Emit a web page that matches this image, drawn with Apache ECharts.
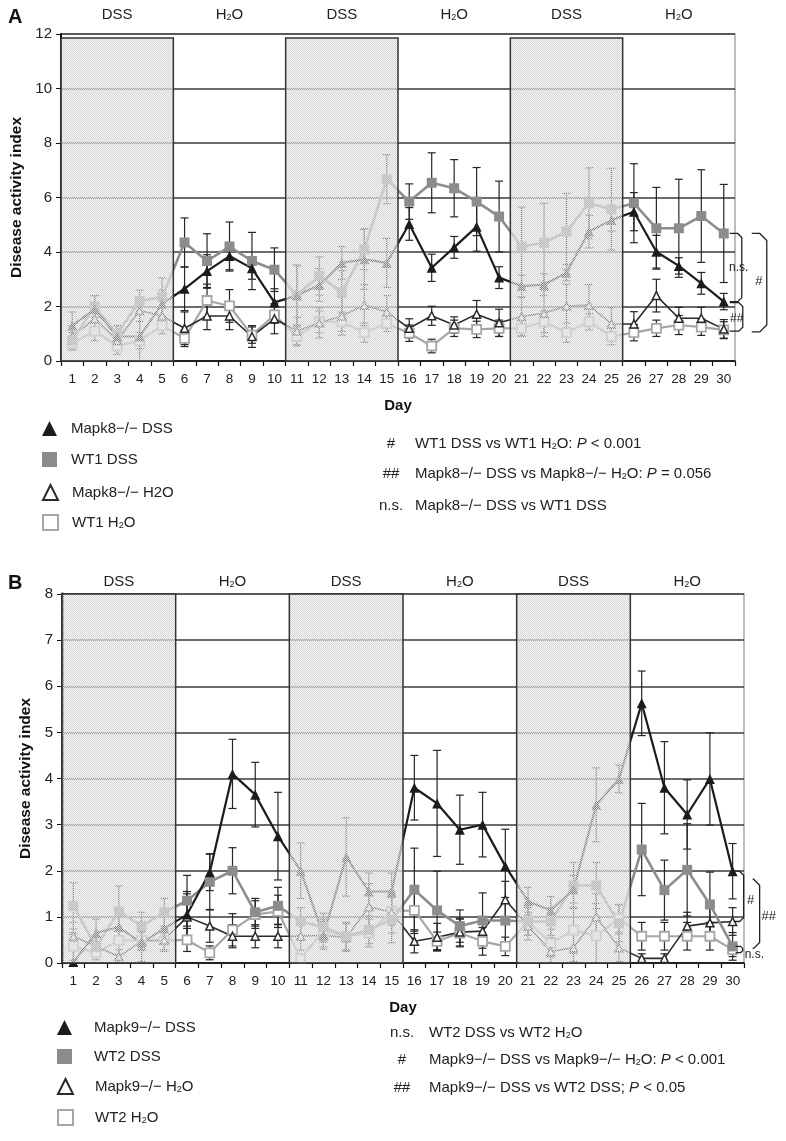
<!DOCTYPE html>
<html><head><meta charset="utf-8">
<script src="https://cdn.jsdelivr.net/npm/echarts@6/dist/echarts.min.js"></script>
<style>html,body{margin:0;padding:0;background:#fff}#c{width:786px;height:1141px}</style>
</head><body><div id="c"></div>
<script>
// ---------- data ----------
const days = ['1','2','3','4','5','6','7','8','9','10','11','12','13','14','15','16','17','18','19','20','21','22','23','24','25','26','27','28','29','30'];
const periods = ['DSS','H2O','DSS','H2O','DSS','H2O'];
const dssBlocks = [[1,5],[11,15],[21,25]];

// Panel A
const mapk8DSS = [1.3,1.9,0.9,0.9,2.1, 2.65,3.3,3.85,3.4,2.15, 2.4,2.79,3.6,3.73,3.6, 5.03,3.42,4.17,4.93,3.06, 2.75,2.8,3.24,4.75,5.17, 5.48,4.01,3.49,2.85,2.18];
const wt1DSS   = [0.75,2.0,1.0,2.2,2.35, 4.35,3.67,4.2,3.67,3.35, 2.42,3.12,2.52,4.1,6.67, 5.85,6.54,6.34,5.85,5.3, 4.2,4.34,4.75,5.79,5.57, 5.79,4.87,4.87,5.32,4.68];
const mapk8H2O = [0.9,1.55,0.75,1.85,1.65, 1.2,1.65,1.65,0.9,1.55, 1.1,1.4,1.65,2.05,1.8, 1.2,1.66,1.32,1.72,1.4, 1.63,1.75,2.02,2.05,1.36, 1.36,2.4,1.57,1.57,1.17];
const wt1H2O   = [0.65,1.1,0.55,0.75,1.3, 0.83,2.22,2.02,0.95,1.69, 0.9,1.44,1.44,1.04,1.38, 1.02,0.55,1.2,1.16,1.2, 1.2,1.44,1.04,1.44,0.9, 1.04,1.2,1.32,1.24,1.14];
const errMapk8DSS = [0.5,0.5,0.4,1.15,0.5, 0.8,0.6,0.5,0.4,0.5, 1.1,0.6,0.6,1.1,0.9, 0.6,0.5,0.4,0.9,0.4, 0.4,0.4,0.3,0.6,0.4, 0.7,0.6,0.3,0.4,0.3];
const errWT1DSS   = [0.3,0.4,0.3,0.4,0.7, 0.9,1.0,0.9,1.05,0.8, 1.1,0.7,0.8,0.75,0.9, 0.65,1.1,1.05,1.25,1.3, 1.45,1.45,1.4,1.3,1.5, 1.45,1.5,1.8,1.7,1.8];
const errMapk8H2O = [0.4,0.35,0.3,0.4,0.35, 0.6,0.5,0.5,0.4,0.55, 0.5,0.55,0.7,0.75,0.6, 0.35,0.35,0.3,0.5,0.5, 0.7,0.85,0.8,0.75,0.6, 0.45,0.6,0.4,0.4,0.35];
const errWT1H2O   = [0.25,0.35,0.3,0.3,0.3, 0.3,0.6,0.6,0.3,0.3, 0.35,0.4,0.35,0.35,0.3, 0.3,0.25,0.3,0.3,0.3, 0.3,0.4,0.35,0.3,0.3, 0.3,0.3,0.35,0.3,0.3];

// Panel B
const mapk9DSS = [0.02,0.65,0.78,0.43,0.75, 1.05,1.97,4.1,3.65,2.75, 2.0,0.6,2.3,1.55,1.55, 3.8,3.46,2.89,3.0,2.1, 1.34,1.14,1.6,3.43,3.99, 5.63,3.8,3.22,3.99,1.99];
const wt2DSS   = [1.24,0.35,1.12,0.8,1.1, 1.35,1.76,2.0,1.1,1.24, 0.9,0.78,0.58,0.72,0.94, 1.59,1.14,0.8,0.92,0.92, 0.9,0.9,1.68,1.68,0.86, 2.46,1.58,2.02,1.27,0.36];
const mapk9H2O = [0.58,0.36,0.14,0.47,0.5, 1.0,0.8,0.58,0.58,0.58, 0.58,0.6,0.55,1.22,1.1, 0.47,0.56,0.67,0.69,1.37, 0.8,0.25,0.33,1.0,0.33, 0.1,0.1,0.8,0.87,0.9];
const wt2H2O   = [0.36,0.22,0.49,0.49,0.49, 0.5,0.22,0.72,1.05,1.12, 0.1,0.7,0.58,0.65,1.12, 1.14,0.47,0.65,0.47,0.36, 0.9,0.43,0.71,0.59,0.97, 0.58,0.58,0.58,0.58,0.29];
const errMapk9DSS = [0.6,0.3,0.3,0.4,0.3, 0.5,0.4,0.75,0.7,0.95, 0.6,0.3,0.85,0.4,0.4, 0.7,1.15,0.75,0.7,0.8, 0.3,0.3,0.3,0.8,0.3, 0.7,1.0,0.75,1.0,0.6];
const errWT2DSS   = [0.5,0.2,0.55,0.3,0.3, 0.55,0.6,0.5,0.3,0.4, 0.3,0.3,0.3,0.3,0.5, 0.9,0.85,0.35,0.6,0.5, 0.3,0.3,0.5,0.5,0.4, 1.0,0.65,1.0,0.7,0.3];
const errMapk9H2O = [0.3,0.2,0.15,0.2,0.25, 0.5,0.35,0.25,0.25,0.25, 0.3,0.25,0.3,0.5,0.45, 0.25,0.3,0.3,0.3,0.4, 0.3,0.3,0.3,0.5,0.3, 0.1,0.1,0.3,0.35,0.3];
const errWT2H2O   = [0.3,0.15,0.3,0.2,0.2, 0.25,0.15,0.35,0.3,0.35, 0.1,0.25,0.3,0.3,0.3, 0.5,0.2,0.3,0.3,0.2, 0.3,0.3,0.5,0.7,0.3, 0.3,0.3,0.3,0.3,0.15];

// ---------- styling helpers ----------
const FONT = 'Liberation Sans, Arial, sans-serif';
const NARROW = 'Liberation Sans Narrow, Liberation Sans, Arial, sans-serif';
const BLACK = '#1c1c1c', GRAY = '#8c8c8c', LGRAY = '#a6a6a6';
const richSub = {
  sub: {fontSize: 9, fontFamily: NARROW, padding: [6, 0, 0, 0], color: '#222'},
  i: {fontStyle: 'italic', fontSize: 15, fontFamily: NARROW, color: '#222'}
};

// pattern for DSS shading
const pc = document.createElement('canvas'); pc.width = 4; pc.height = 4;
const pctx = pc.getContext('2d');
pctx.fillStyle = 'rgba(232,232,232,0.5)'; pctx.fillRect(0,0,4,4);
pctx.fillStyle = '#d8d8d8';
[[0,0],[2,0],[1,1],[3,1],[0,2],[2,2],[1,3],[3,3]].forEach(p => pctx.fillRect(p[0],p[1],1,1));
const pattern = {image: pc, repeat: 'repeat'};

function overlayRender(params, api) {
  const s = api.value(0) - 1, e = api.value(1) - 1, top = api.value(2);
  const p0 = api.coord([s, top]);
  const p1 = api.coord([e, 0]);
  const bw = api.size([1, 0])[0];
  const x0 = p0[0] - bw / 2, x1 = p1[0] + bw / 2;
  return {type: 'rect', shape: {x: x0, y: p0[1], width: x1 - x0, height: p1[1] - p0[1]},
    style: {fill: pattern, stroke: '#333', lineWidth: 1.5}};
}
function errRender(params, api) {
  const x = api.value(0), v = api.value(1), e = api.value(2);
  const hi = api.coord([x, v + e]), lo = api.coord([x, Math.max(0, v - e)]);
  const w = 4, st = {stroke: '#262626', lineWidth: 1.2};
  return {type: 'group', children: [
    {type: 'line', shape: {x1: hi[0], y1: hi[1], x2: lo[0], y2: lo[1]}, style: st},
    {type: 'line', shape: {x1: hi[0] - w, y1: hi[1], x2: hi[0] + w, y2: hi[1]}, style: st},
    {type: 'line', shape: {x1: lo[0] - w, y1: lo[1], x2: lo[0] + w, y2: lo[1]}, style: st}
  ]};
}

function lineSeries(name, data, gi, kind) {
  const base = {name, type: 'line', data, xAxisIndex: gi, yAxisIndex: gi, z: 3, animation: false};
  if (kind === 'kDSS') return Object.assign(base, {symbol: 'triangle', symbolSize: 10,
    lineStyle: {color: BLACK, width: 2.2}, itemStyle: {color: BLACK}});
  if (kind === 'wDSS') return Object.assign(base, {symbol: 'rect', symbolSize: 10,
    lineStyle: {color: GRAY, width: 2.6}, itemStyle: {color: GRAY}});
  if (kind === 'kH2O') return Object.assign(base, {symbol: 'triangle', symbolSize: 8,
    lineStyle: {color: '#2a2a2a', width: 1.6}, itemStyle: {color: '#fff', borderColor: '#2a2a2a', borderWidth: 1.5}});
  return Object.assign(base, {symbol: 'rect', symbolSize: 9,
    lineStyle: {color: LGRAY, width: 2.2}, itemStyle: {color: '#fff', borderColor: LGRAY, borderWidth: 1.8}});
}
function errSeries(vals, errs, gi) {
  return {type: 'custom', renderItem: errRender, xAxisIndex: gi, yAxisIndex: gi, z: 2, silent: true,
    animation: false, data: vals.map((v, i) => [i, v, errs[i]])};
}
function overlaySeries(gi, top) {
  return {type: 'custom', renderItem: overlayRender, xAxisIndex: gi, yAxisIndex: gi, z: 6, silent: true,
    animation: false, encode: {x: 0, y: 2}, data: dssBlocks.map(b => [b[0], b[1], top])};
}

const xAxisBase = (gi) => ({
  type: 'category', data: days, gridIndex: gi, boundaryGap: true,
  axisLine: {lineStyle: {color: '#111', width: 1.5}},
  axisTick: {show: true, interval: 0, length: 5, lineStyle: {color: '#111', width: 1.2}},
  axisLabel: {interval: 0, fontSize: 13.5, color: '#222', fontFamily: FONT, margin: 11},
  name: 'Day', nameLocation: 'middle', nameGap: 37,
  nameTextStyle: {fontSize: 15, fontWeight: 'bold', color: '#111', fontFamily: FONT},
  splitLine: {show: false}
});
const yAxisBase = (gi, max, interval, lw) => ({
  type: 'value', gridIndex: gi, min: 0, max, interval,
  axisLine: {show: true, lineStyle: {color: '#111', width: lw}},
  axisTick: {show: true, length: 5, lineStyle: {color: '#111'}},
  axisLabel: {fontSize: 15, color: '#222', fontFamily: FONT, margin: 9},
  splitLine: {show: true, lineStyle: {color: '#3a3a3a', width: 1.5}},
  name: 'Disease activity index', nameLocation: 'middle', nameGap: 26,
  nameTextStyle: {fontSize: 15.5, fontWeight: 'bold', color: '#111', fontFamily: FONT}
});

const legendFmt = {
  'Mapk8−/− DSS': 'Mapk8−/− DSS', 'WT1 DSS': 'WT1 DSS', 'Mapk8−/− H2O': 'Mapk8−/− H2O', 'WT1 H2O': 'WT1 H{sub|2}O',
  'Mapk9−/− DSS': 'Mapk9−/− DSS', 'WT2 DSS': 'WT2 DSS', 'Mapk9−/− H2O': 'Mapk9−/− H{sub|2}O', 'WT2 H2O': 'WT2 H{sub|2}O'
};
// one legend component per row so that every row sits at its own height
const legendRow = (name, left, y, gap) => {
  const hasSub = legendFmt[name].indexOf('{sub') >= 0;
  return {
    orient: 'horizontal', left, top: y - (hasSub ? 11 : 9), padding: 0, itemWidth: 15, itemHeight: 15,
    selectedMode: false, data: [{name, icon: name.indexOf('Mapk') === 0 ? 'triangle' : 'rect'}],
    formatter: n => legendFmt[n],
    textStyle: {fontSize: 15, fontFamily: NARROW, color: '#222', padding: [0, 0, 0, gap], rich: richSub}
  };
};
const legendsA = [['Mapk8−/− DSS', 430], ['WT1 DSS', 461], ['Mapk8−/− H2O', 493], ['WT1 H2O', 525]];
const legendsB = [['Mapk9−/− DSS', 1029], ['WT2 DSS', 1058], ['Mapk9−/− H2O', 1089], ['WT2 H2O', 1120]];

const option = {
  backgroundColor: '#fff',
  animation: false,
  grid: [
    {left: 61, top: 34, width: 674, height: 327, show: true, borderColor: '#a8a8a8', borderWidth: 1.5},
    {left: 62, top: 594, width: 682, height: 369, show: true, borderColor: '#a8a8a8', borderWidth: 1.5}
  ],
  xAxis: [xAxisBase(0), xAxisBase(1)],
  yAxis: [yAxisBase(0, 12, 2, 2), yAxisBase(1, 8, 1, 2.8)],
  legend: legendsA.map(r => legendRow(r[0], 42, r[1], 9)).concat(legendsB.map(r => legendRow(r[0], 57, r[1], 17))),
  series: [
    errSeries(wt1H2O, errWT1H2O, 0), errSeries(mapk8H2O, errMapk8H2O, 0),
    errSeries(wt1DSS, errWT1DSS, 0), errSeries(mapk8DSS, errMapk8DSS, 0),
    lineSeries('WT1 H2O', wt1H2O, 0, 'wH2O'),
    lineSeries('Mapk8−/− H2O', mapk8H2O, 0, 'kH2O'),
    lineSeries('WT1 DSS', wt1DSS, 0, 'wDSS'),
    lineSeries('Mapk8−/− DSS', mapk8DSS, 0, 'kDSS'),
    overlaySeries(0, 11.85),
    errSeries(wt2H2O, errWT2H2O, 1), errSeries(mapk9H2O, errMapk9H2O, 1),
    errSeries(wt2DSS, errWT2DSS, 1), errSeries(mapk9DSS, errMapk9DSS, 1),
    lineSeries('WT2 H2O', wt2H2O, 1, 'wH2O'),
    lineSeries('Mapk9−/− H2O', mapk9H2O, 1, 'kH2O'),
    lineSeries('WT2 DSS', wt2DSS, 1, 'wDSS'),
    lineSeries('Mapk9−/− DSS', mapk9DSS, 1, 'kDSS'),
    overlaySeries(1, 8)
  ]
};

const chart = echarts.init(document.getElementById('c'), null, {renderer: 'canvas'});
chart.setOption(option);

// ---------- annotations ----------
const px = (gi, i, v) => chart.convertToPixel({xAxisIndex: gi, yAxisIndex: gi}, [i, v]);
const txt = (x, y, text, extra) => ({type: 'text', x, y, z: 100, silent: true,
  style: Object.assign({text, fontSize: 15, fontFamily: FONT, fill: '#222', rich: richSub,
    align: 'center', verticalAlign: 'middle'}, extra || {})});
function bracket(x0, x1, y0, y1, r) {
  return {type: 'polyline', z: 100, silent: true,
    shape: {points: [[x0, y0], [x1 - r, y0], [x1, y0 + r], [x1, y1 - r], [x1 - r, y1], [x0, y1]]},
    style: {stroke: '#222', fill: null, lineWidth: 1.3}};
}
const g = [];
g.push(txt(8, 17, 'A', {fontSize: 20, fontWeight: 'bold', align: 'left', fill: '#111'}));
g.push(txt(8, 583, 'B', {fontSize: 20, fontWeight: 'bold', align: 'left', fill: '#111'}));
periods.forEach((p, k) => {
  const label = p === 'H2O' ? 'H{sub|2}O' : p;
  const cA = px(0, k * 5 + 2, 0);
  const cB = px(1, k * 5 + 2, 0);
  g.push(txt(cA[0], 15, label, {fontSize: 15}));
  g.push(txt(cB[0], 582, label, {fontSize: 15}));
});
// Panel A brackets
{
  const xs = px(0, 29, 0)[0];
  const yW = px(0, 29, wt1DSS[29])[1], yK = px(0, 29, mapk8DSS[29])[1];
  const yKh = px(0, 29, mapk8H2O[29])[1], yWh = px(0, 29, wt1H2O[29])[1];
  g.push(bracket(xs + 6, xs + 18, yW, yK, 4));
  g.push(txt(xs + 15, (yW + yK) / 2, 'n.s.', {fontSize: 12, fontFamily: NARROW}));
  g.push(bracket(xs + 6, xs + 19, yK + 1, yKh + 2, 4));
  g.push(txt(xs + 13, (yK + yKh) / 2 + 3, '##', {fontSize: 12, fontFamily: NARROW}));
  g.push(bracket(xs + 28, xs + 43, yW, yWh + 2, 7));
  g.push(txt(xs + 35, (yW + yWh) / 2, '#', {fontSize: 13, fontFamily: NARROW}));
}
// Panel B brackets
{
  const xs = px(1, 29, 0)[0];
  const yK = px(1, 29, mapk9DSS[29])[1], yKh = px(1, 29, mapk9H2O[29])[1];
  const yW = px(1, 29, wt2DSS[29])[1], yWh = px(1, 29, wt2H2O[29])[1];
  g.push(bracket(xs + 1, xs + 11, yK, yKh, 4));
  g.push(txt(xs + 18, (yK + yKh) / 2 + 4, '#', {fontSize: 13, fontFamily: NARROW}));
  g.push(bracket(xs + 20, xs + 27, yK + 8, yW + 2, 6));
  g.push(txt(xs + 36, (yK + yW) / 2 + 8, '##', {fontSize: 13, fontFamily: NARROW}));
  g.push(bracket(xs + 3, xs + 10, yW, yWh + 3, 2));
  g.push(txt(xs + 12, yWh + 5, 'n.s.', {fontSize: 12, fontFamily: NARROW, align: 'left'}));
}
// Significance key texts
const keyA = [['#', 'WT1 DSS vs WT1 H{sub|2}O: {i|P} < 0.001', 444],
              ['##', 'Mapk8−/− DSS vs Mapk8−/− H{sub|2}O: {i|P} = 0.056', 474],
              ['n.s.', 'Mapk8−/− DSS vs WT1 DSS', 506]];
keyA.forEach(r => {
  g.push(txt(391, r[2], r[0], {fontFamily: NARROW}));
  g.push(txt(415, r[2], r[1], {fontFamily: NARROW, align: 'left'}));
});
const keyB = [['n.s.', 'WT2 DSS vs WT2 H{sub|2}O', 1033],
              ['#', 'Mapk9−/− DSS vs Mapk9−/− H{sub|2}O: {i|P} < 0.001', 1060],
              ['##', 'Mapk9−/− DSS vs WT2 DSS; {i|P} < 0.05', 1088]];
keyB.forEach(r => {
  g.push(txt(402, r[2], r[0], {fontFamily: NARROW}));
  g.push(txt(429, r[2], r[1], {fontFamily: NARROW, align: 'left'}));
});
chart.setOption({graphic: g});
</script></body></html>
